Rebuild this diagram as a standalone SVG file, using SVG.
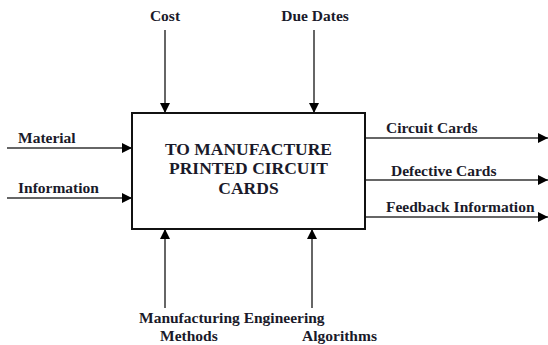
<svg xmlns="http://www.w3.org/2000/svg" width="548" height="345" viewBox="0 0 548 345">
<style>
text{font-family:"Liberation Serif","Times New Roman",serif;font-weight:bold;fill:#1a1a2a}
.lbl{font-size:15.5px}
.title{font-size:17.5px}
.ln{stroke:#333;stroke-width:1.5;fill:none}
</style>
<defs>
<marker id="ah" viewBox="0 0 10 10" refX="10" refY="5" markerWidth="10" markerHeight="10" markerUnits="userSpaceOnUse" orient="auto">
<path d="M0,0 L10,5 L0,10 Z" fill="#000"/>
</marker>
</defs>
<rect width="548" height="345" fill="#fff"/>
<g id="connectors">
<line class="ln" x1="165" y1="30" x2="165" y2="113" marker-end="url(#ah)"/>
<line class="ln" x1="314" y1="30" x2="314" y2="113" marker-end="url(#ah)"/>
<line class="ln" x1="7" y1="148" x2="132" y2="148" marker-end="url(#ah)"/>
<line class="ln" x1="7" y1="198" x2="132" y2="198" marker-end="url(#ah)"/>
<line class="ln" x1="365" y1="138" x2="548" y2="138" marker-end="url(#ah)"/>
<line class="ln" x1="365" y1="180" x2="548" y2="180" marker-end="url(#ah)"/>
<line class="ln" x1="365" y1="217" x2="548" y2="217" marker-end="url(#ah)"/>
<line class="ln" x1="165" y1="308" x2="165" y2="229" marker-end="url(#ah)"/>
<line class="ln" x1="312" y1="308" x2="312" y2="229" marker-end="url(#ah)"/>
</g>
<g id="process">
<rect x="132" y="113" width="233" height="116" fill="#fff" stroke="#111" stroke-width="2"/>
<text class="title" x="248.5" y="155" text-anchor="middle">TO MANUFACTURE</text>
<text class="title" x="248.5" y="174" text-anchor="middle">PRINTED CIRCUIT</text>
<text class="title" x="248.5" y="194" text-anchor="middle">CARDS</text>
</g>
<g id="cost"><text class="lbl" x="165" y="21" text-anchor="middle">Cost</text></g>
<g id="due-dates"><text class="lbl" x="315" y="21" text-anchor="middle">Due Dates</text></g>
<g id="material"><text class="lbl" x="18" y="143">Material</text></g>
<g id="information"><text class="lbl" x="18" y="193">Information</text></g>
<g id="circuit-cards"><text class="lbl" x="386" y="133">Circuit Cards</text></g>
<g id="defective-cards"><text class="lbl" x="391" y="176">Defective Cards</text></g>
<g id="feedback"><text class="lbl" x="386" y="212">Feedback Information</text></g>
<g id="methods"><text class="lbl" x="139" y="323">Manufacturing Engineering</text><text class="lbl" x="160" y="341">Methods</text></g>
<g id="algorithms"><text class="lbl" x="302" y="341">Algorithms</text></g>
</svg>
